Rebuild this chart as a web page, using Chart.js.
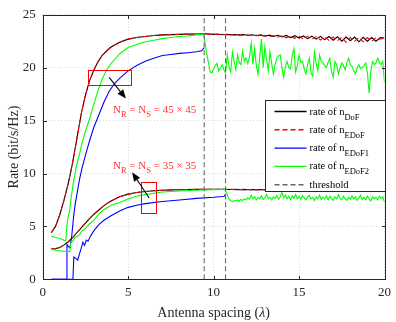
<!DOCTYPE html>
<html><head><meta charset="utf-8">
<script src="https://cdn.jsdelivr.net/npm/chart.js@4.4.0/dist/chart.umd.min.js"></script>
<style>html,body{margin:0;padding:0;background:#fff}#wrap{width:396px;height:322px;position:relative}</style>
</head><body><div id="wrap"><canvas id="c"></canvas></div>
<script>
// ---------- data ----------
const xTicks = [0, 5, 10, 15, 20];
const yTicks = [0, 5, 10, 15, 20, 25];
const thresholds = [9.45, 10.7];

const xSmooth = [0.5,0.75,1,1.25,1.5,1.75,2,2.25,2.5,2.75,3,3.25,3.5,3.75,4,4.5,5,5.5,6,6.5,7,7.5,8,8.5,9,9.5,
  9.75,10,10.25,10.5,10.75,11,11.25,11.5,11.75,12,12.25,12.5,12.75,13,13.25,13.5,13.75,14,14.25,14.5,14.75,15,15.25,15.5,15.75,16,16.25,16.5,16.75,17,17.25,17.5,17.75,18,18.25,18.5,18.75,19,19.25,19.5,19.75,20];

// 45 x 45
const dofHigh = [4.4,5.0,6.1,7.5,9.1,11.0,13.3,15.6,17.4,18.8,19.8,20.6,21.2,21.6,21.95,22.4,22.7,22.85,22.95,23.05,23.1,23.13,23.15,23.17,23.19,23.2,
  23.18,23.15,23.18,23.12,23.16,23.1,23.14,23.08,23.13,23.05,23.12,23.02,23.1,22.98,23.08,22.95,23.06,22.9,23.05,22.85,23.03,22.8,23.0,22.75,22.98,22.7,22.96,22.65,22.95,22.6,22.93,22.5,22.9,22.55,22.9,22.45,22.88,22.5,22.85,22.5,22.85,22.8];
const edofHigh = [4.4,5.0,6.1,7.5,9.1,11.0,13.3,15.6,17.4,18.8,19.8,20.6,21.2,21.6,21.95,22.4,22.7,22.85,22.95,23.05,23.1,23.13,23.15,23.17,23.19,23.2,
  23.15,23.17,23.12,23.16,23.1,23.14,23.07,23.13,23.04,23.1,23.0,23.09,22.96,23.06,22.92,23.04,22.88,23.02,22.82,23.0,22.78,22.98,22.72,22.96,22.68,22.94,22.62,22.92,22.58,22.9,22.55,22.88,22.4,22.86,22.5,22.85,22.45,22.85,22.5,22.83,22.7,22.8];
const edof1HighX = [0.5,1.0,1.38,1.42,1.5,1.6,1.7,1.8,1.9,2.0,2.15,2.3,2.45,2.6,2.8,3.0,3.3,3.6,3.9,4.2,4.5,5.0,5.5,6.0,6.5,7.0,7.5,8.0,8.5,9.0,9.3,9.45];
const edof1High = [0,0,0,3.3,3.1,3.0,4.1,5.8,7.1,8.0,9.4,10.5,11.4,12.3,13.4,14.4,15.6,16.8,17.8,18.5,19.0,19.7,20.2,20.6,20.9,21.15,21.25,21.35,21.42,21.5,21.6,21.9];
const edof2HighX = [0.5,0.75,1.0,1.25,1.35,1.42,1.5,1.58,1.63,1.77,1.96,2.15,2.3,2.5,2.75,3.0,3.25,3.5,3.75,4.0,4.5,5.0,5.5,6.0,6.5,7.0,7.5,8.0,8.5,9.0,9.3,9.42,9.6,
  9.8,9.9,10.0,10.1,10.2,10.3,10.4,10.5,10.6,10.7,10.8,10.9,11.0,11.1,11.2,11.3,11.4,11.5,11.6,11.7,11.8,11.9,12.0,12.1,12.2,12.3,12.4,12.5,12.6,12.7,12.8,12.9,
  13.0,13.1,13.2,13.3,13.4,13.5,13.6,13.7,13.8,13.9,14.0,14.1,14.2,14.3,14.4,14.5,14.6,14.7,14.8,14.9,15.0,15.1,15.2,15.3,15.4,15.5,15.6,15.7,15.8,15.9,
  16.0,16.1,16.2,16.3,16.4,16.5,16.6,16.7,16.8,16.9,17.0,17.1,17.2,17.3,17.4,17.5,17.6,17.7,17.8,17.9,18.0,18.1,18.2,18.3,18.4,18.5,18.6,18.7,18.8,18.9,
  19.0,19.1,19.2,19.3,19.4,19.5,19.6,19.7,19.8,19.9,20.0];
const edof2High = [4.1,3.95,3.85,3.7,3.65,5.2,6.0,6.5,7.3,8.9,10.6,11.8,12.9,14.0,15.2,16.6,17.9,19.0,19.8,20.4,21.3,21.9,22.2,22.45,22.6,22.75,22.85,22.95,23.0,23.1,23.15,23.2,21.3,
  19.6,19.5,19.9,20.2,20.4,19.7,20.0,20.3,19.8,19.5,21.2,20.1,19.6,21.5,20.6,19.8,21.2,20.5,20.3,21.6,20.6,20.9,20.4,21.0,22.3,20.3,21.8,20.2,19.4,21.0,22.7,20.0,
  22.0,20.8,19.7,21.5,20.4,19.4,20.3,20.9,21.1,21.2,20.0,19.1,20.1,20.6,20.0,19.9,21.2,21.8,19.6,20.2,21.2,20.5,20.6,19.9,19.4,20.3,20.9,19.5,19.2,21.5,
  20.4,19.7,21.2,20.6,20.45,20.2,20.0,20.5,20.9,19.6,19.1,20.6,20.3,19.4,20.0,20.45,20.2,19.8,20.5,20.9,20.3,20.1,19.7,19.4,20.0,20.3,19.9,20.0,20.2,20.45,
  19.5,17.6,19.7,20.6,20.3,20.45,20.9,20.5,20.3,20.6,18.6];

// 35 x 35
const dofLow = [2.85,2.9,3.0,3.25,3.55,3.95,4.4,4.85,5.3,5.75,6.15,6.5,6.85,7.15,7.4,7.8,8.05,8.2,8.3,8.37,8.42,8.45,8.47,8.49,8.5,8.5,
  8.5,8.5,8.5,8.5,8.5,8.49,8.5,8.47,8.5,8.46,8.49,8.45,8.49,8.44,8.48,8.43,8.48,8.42,8.47,8.42,8.47,8.4,8.46,8.4,8.46,8.38,8.45,8.38,8.45,8.36,8.44,8.37,8.44,8.35,8.43,8.36,8.43,8.34,8.42,8.36,8.42,8.4];
const edofLow = [2.85,2.9,3.0,3.25,3.55,3.95,4.4,4.85,5.3,5.75,6.15,6.5,6.85,7.15,7.4,7.8,8.05,8.2,8.3,8.37,8.42,8.45,8.47,8.49,8.5,8.5,
  8.5,8.5,8.5,8.5,8.49,8.5,8.47,8.5,8.46,8.49,8.45,8.49,8.44,8.48,8.43,8.48,8.42,8.47,8.41,8.47,8.4,8.46,8.39,8.46,8.38,8.45,8.37,8.45,8.36,8.44,8.35,8.44,8.36,8.43,8.34,8.43,8.35,8.42,8.36,8.42,8.38,8.4];
const edof1LowX = [0.5,1.0,1.5,1.77,1.82,1.95,2.05,2.15,2.25,2.35,2.45,2.55,2.65,2.8,3.0,3.3,3.6,4.0,4.5,5.0,5.5,6.0,7.0,8.0,9.0,10.0,10.5,10.62,10.7];
const edof1Low = [0,0,0,0,2.1,1.95,1.8,2.4,2.9,3.5,3.2,3.7,3.6,4.1,4.6,5.2,5.6,6.0,6.45,6.8,7.0,7.15,7.35,7.5,7.65,7.75,7.82,7.85,8.05];
const edof2LowX = [0.5,0.75,1.0,1.25,1.5,1.58,1.63,1.7,1.8,1.9,2.0,2.15,2.3,2.45,2.6,2.75,3.0,3.3,3.6,4.0,4.5,5.0,5.5,6.0,7.0,8.0,9.0,9.5,10.0,10.5,10.65,10.8,10.9,11.0,11.1,11.2,11.3,
  11.4,11.5,11.6,11.7,11.8,11.9,12.0,12.1,12.2,12.3,12.4,12.5,12.6,12.7,12.8,12.9,13.0,13.1,13.2,13.3,13.4,13.5,13.6,13.7,13.8,13.9,
  14.0,14.1,14.2,14.3,14.4,14.5,14.6,14.7,14.8,14.9,15.0,15.1,15.2,15.3,15.4,15.5,15.6,15.7,15.8,15.9,
  16.0,16.1,16.2,16.3,16.4,16.5,16.6,16.7,16.8,16.9,17.0,17.1,17.2,17.3,17.4,17.5,17.6,17.7,17.8,17.9,
  18.0,18.1,18.2,18.3,18.4,18.5,18.6,18.7,18.8,18.9,19.0,19.1,19.2,19.3,19.4,19.5,19.6,19.7,19.8,19.9,20.0];
const edof2Low = [2.85,2.75,2.7,2.65,2.6,2.6,3.4,3.5,3.7,4.0,4.0,4.2,4.6,4.7,5.0,5.25,5.6,6.2,6.6,7.0,7.25,7.6,7.85,8.0,8.25,8.35,8.42,8.45,8.48,8.5,8.55,8.0,7.6,7.4,7.35,7.45,7.4,
  7.5,7.4,7.55,7.45,7.6,7.5,7.7,7.55,7.95,7.6,7.8,7.5,7.75,7.6,7.9,7.55,7.7,8.05,7.6,7.75,7.5,7.8,7.65,7.9,7.55,7.8,
  8.2,7.7,7.95,7.6,7.85,7.5,7.9,7.65,8.0,7.6,7.85,7.55,7.9,7.7,7.5,7.8,7.95,7.6,7.75,7.45,
  7.8,7.6,7.95,7.55,7.75,7.6,7.9,7.5,7.85,7.65,7.45,7.8,7.6,8.0,7.65,7.5,7.85,7.6,7.45,7.75,
  7.55,7.9,7.6,7.8,7.45,7.7,7.95,7.55,7.75,7.5,7.85,7.6,7.4,7.8,7.6,7.75,7.5,7.85,7.65,7.8,7.3];

// annotations (data units)
const annotBoxes = [[2.63, 5.14, 18.29, 19.75], [5.77, 6.64, 6.3, 9.2]];
const annotArrows = [[3.89, 19.08, 4.87, 17.08], [6.23, 7.68, 5.23, 10.12]];
const annotLabels = [{x: 4.11, y: 15.7, size: '45 × 45'}, {x: 4.11, y: 10.4, size: '35 × 35'}];

const legendItems = [
  {base: 'rate of n', sub: 'DoF', color: '#000000', dash: []},
  {base: 'rate of n', sub: 'EDoF', color: '#ff0000', dash: [5, 3]},
  {base: 'rate of n', sub: 'EDoF1', color: '#0000ff', dash: []},
  {base: 'rate of n', sub: 'EDoF2', color: '#00ff00', dash: []},
  {base: 'threshold', sub: '', color: '#666666', dash: [5, 3]}
];

// ---------- chart ----------
const SERIF = '"Liberation Serif","Times New Roman",serif';
function pts(xs, ys) { return xs.map((x, i) => ({x: x, y: ys[i]})); }
function line(data, color, dash, order, tension) {
  return {data: data, borderColor: color, borderDash: dash, borderWidth: 1.1, pointRadius: 0,
    fill: false, tension: tension, order: order, spanGaps: false};
}
const datasets = [
  line(pts(xSmooth, dofHigh), '#000000', [], 6, 0),
  line(pts(xSmooth, edofHigh), '#ff0000', [5, 3], 4, 0),
  line(pts(edof1HighX, edof1High), '#0000ff', [], 3, 0),
  line(pts(edof2HighX, edof2High), '#00ff00', [], 2, 0),
  line(pts(xSmooth, dofLow), '#000000', [], 6, 0),
  line(pts(xSmooth, edofLow), '#ff0000', [5, 3], 4, 0),
  line(pts(edof1LowX, edof1Low), '#0000ff', [], 3, 0),
  line(pts(edof2LowX, edof2Low), '#00ff00', [], 2, 0)
];
thresholds.forEach(t => datasets.push(line([{x: t, y: 0}, {x: t, y: 25}], '#666666', [5, 3], 1, 0)));

const decor = {
  id: 'decor',
  afterDraw(chart) {
    const ctx = chart.ctx, a = chart.chartArea, X = chart.scales.x, Y = chart.scales.y;
    ctx.save();
    // annotation boxes
    ctx.strokeStyle = '#ff0000'; ctx.lineWidth = 1; ctx.setLineDash([]);
    annotBoxes.forEach(b => {
      const x0 = X.getPixelForValue(b[0]), x1 = X.getPixelForValue(b[1]);
      const y0 = Y.getPixelForValue(b[2]), y1 = Y.getPixelForValue(b[3]);
      ctx.strokeRect(Math.round(x0) + 0.5, Math.round(y1) + 0.5, Math.round(x1 - x0), Math.round(y0 - y1));
    });
    // arrows
    ctx.strokeStyle = '#000'; ctx.fillStyle = '#000'; ctx.lineWidth = 1.1;
    annotArrows.forEach(r => {
      const x0 = X.getPixelForValue(r[0]), y0 = Y.getPixelForValue(r[1]);
      const x1 = X.getPixelForValue(r[2]), y1 = Y.getPixelForValue(r[3]);
      const ang = Math.atan2(y1 - y0, x1 - x0), L = 9, W = 3.6;
      const bx = x1 - L * Math.cos(ang), by = y1 - L * Math.sin(ang);
      ctx.beginPath(); ctx.moveTo(x0, y0); ctx.lineTo(bx, by); ctx.stroke();
      ctx.beginPath(); ctx.moveTo(x1, y1);
      ctx.lineTo(bx + W * Math.sin(ang), by - W * Math.cos(ang));
      ctx.lineTo(bx - W * Math.sin(ang), by + W * Math.cos(ang));
      ctx.closePath(); ctx.fill();
    });
    // annotation labels
    ctx.fillStyle = '#ff3030'; ctx.textBaseline = 'alphabetic'; ctx.textAlign = 'left';
    annotLabels.forEach(l => {
      let px = X.getPixelForValue(l.x); const py = Y.getPixelForValue(l.y);
      const parts = [['N', 0, 11], ['R', 3.5, 8.5], [' = N', 0, 11], ['S', 3.5, 8.5], [' = ' + l.size, 0, 11]];
      parts.forEach(p => {
        ctx.font = p[2] + 'px ' + SERIF;
        ctx.fillText(p[0], px, py + p[1]);
        px += ctx.measureText(p[0]).width;
      });
    });
    // frame + inner ticks
    ctx.strokeStyle = '#262626'; ctx.lineWidth = 1; ctx.setLineDash([]);
    const L = Math.round(a.left) + 0.5, R = Math.round(a.right) + 0.5, T = Math.round(a.top) + 0.5, B = Math.round(a.bottom) + 0.5;
    ctx.strokeRect(L, T, R - L, B - T);
    ctx.beginPath();
    xTicks.forEach(v => {
      const px = Math.round(X.getPixelForValue(v)) + 0.5;
      ctx.moveTo(px, B); ctx.lineTo(px, B - 3.5);
      ctx.moveTo(px, T); ctx.lineTo(px, T + 3.5);
    });
    yTicks.forEach(v => {
      const py = Math.round(Y.getPixelForValue(v)) + 0.5;
      ctx.moveTo(L, py); ctx.lineTo(L + 3.5, py);
      ctx.moveTo(R, py); ctx.lineTo(R - 3.5, py);
    });
    ctx.stroke();
    // legend
    const lx = Math.round(a.right - 120) + 0.5, ly = Math.round(a.top + 85) + 0.5, lw = Math.round(a.right) - Math.round(a.right - 120), lh = 91;
    ctx.fillStyle = '#fff'; ctx.fillRect(lx, ly, lw, lh);
    ctx.strokeStyle = '#262626'; ctx.lineWidth = 1; ctx.strokeRect(lx, ly, lw, lh);
    legendItems.forEach((it, i) => {
      const ry = ly + 11 + i * 18.3;
      ctx.strokeStyle = it.color; ctx.lineWidth = 1.4; ctx.setLineDash(it.dash);
      ctx.beginPath(); ctx.moveTo(lx + 9, ry); ctx.lineTo(lx + 41, ry); ctx.stroke();
      ctx.setLineDash([]);
      ctx.fillStyle = '#000';
      ctx.font = '10.5px ' + SERIF;
      ctx.fillText(it.base, lx + 44, ry + 3);
      if (it.sub) {
        const w = ctx.measureText(it.base).width;
        ctx.font = '8.5px ' + SERIF;
        ctx.fillText(it.sub, lx + 44 + w, ry + 8);
      }
    });
    // axis titles
    ctx.fillStyle = '#262626';
    const t1 = 'Antenna spacing (', t2 = 'λ', t3 = ')';
    ctx.font = '14px ' + SERIF; const w1 = ctx.measureText(t1).width, w3 = ctx.measureText(t3).width;
    ctx.font = 'italic 14px ' + SERIF; const w2 = ctx.measureText(t2).width;
    let sx = (a.left + a.right) / 2 - (w1 + w2 + w3) / 2; const sy = 317;
    ctx.font = '14px ' + SERIF; ctx.fillText(t1, sx, sy); sx += w1;
    ctx.font = 'italic 14px ' + SERIF; ctx.fillText(t2, sx, sy); sx += w2;
    ctx.font = '14px ' + SERIF; ctx.fillText(t3, sx, sy);
    ctx.translate(18, (a.top + a.bottom) / 2); ctx.rotate(-Math.PI / 2);
    ctx.textAlign = 'center'; ctx.font = '14px ' + SERIF;
    ctx.fillText('Rate (bit/s/Hz)', 0, 0);
    ctx.restore();
  }
};

new Chart(document.getElementById('c'), {
  type: 'line',
  data: {datasets: datasets},
  options: {
    responsive: true, maintainAspectRatio: false, animation: false,
    layout: {padding: {top: 5, right: 6.7, left: 0, bottom: 0}},
    plugins: {legend: {display: false}, tooltip: {enabled: false}},
    scales: {
      x: {type: 'linear', min: 0, max: 20,
        afterBuildTicks: s => { s.ticks = xTicks.map(v => ({value: v})); },
        afterFit: s => { s.height = 42.7; },
        ticks: {font: {family: SERIF, size: 13}, color: '#262626', padding: 5, maxRotation: 0},
        grid: {color: '#d8d8d8', lineWidth: 1, drawTicks: false},
        border: {display: false, dash: [1, 2]}},
      y: {type: 'linear', min: 0, max: 25,
        afterBuildTicks: s => { s.ticks = yTicks.map(v => ({value: v})); },
        afterFit: s => { s.width = 42.7; },
        ticks: {font: {family: SERIF, size: 13}, color: '#262626', padding: 7},
        grid: {color: '#d8d8d8', lineWidth: 1, drawTicks: false},
        border: {display: false, dash: [1, 2]}}
    }
  },
  plugins: [decor]
});
</script></body></html>
